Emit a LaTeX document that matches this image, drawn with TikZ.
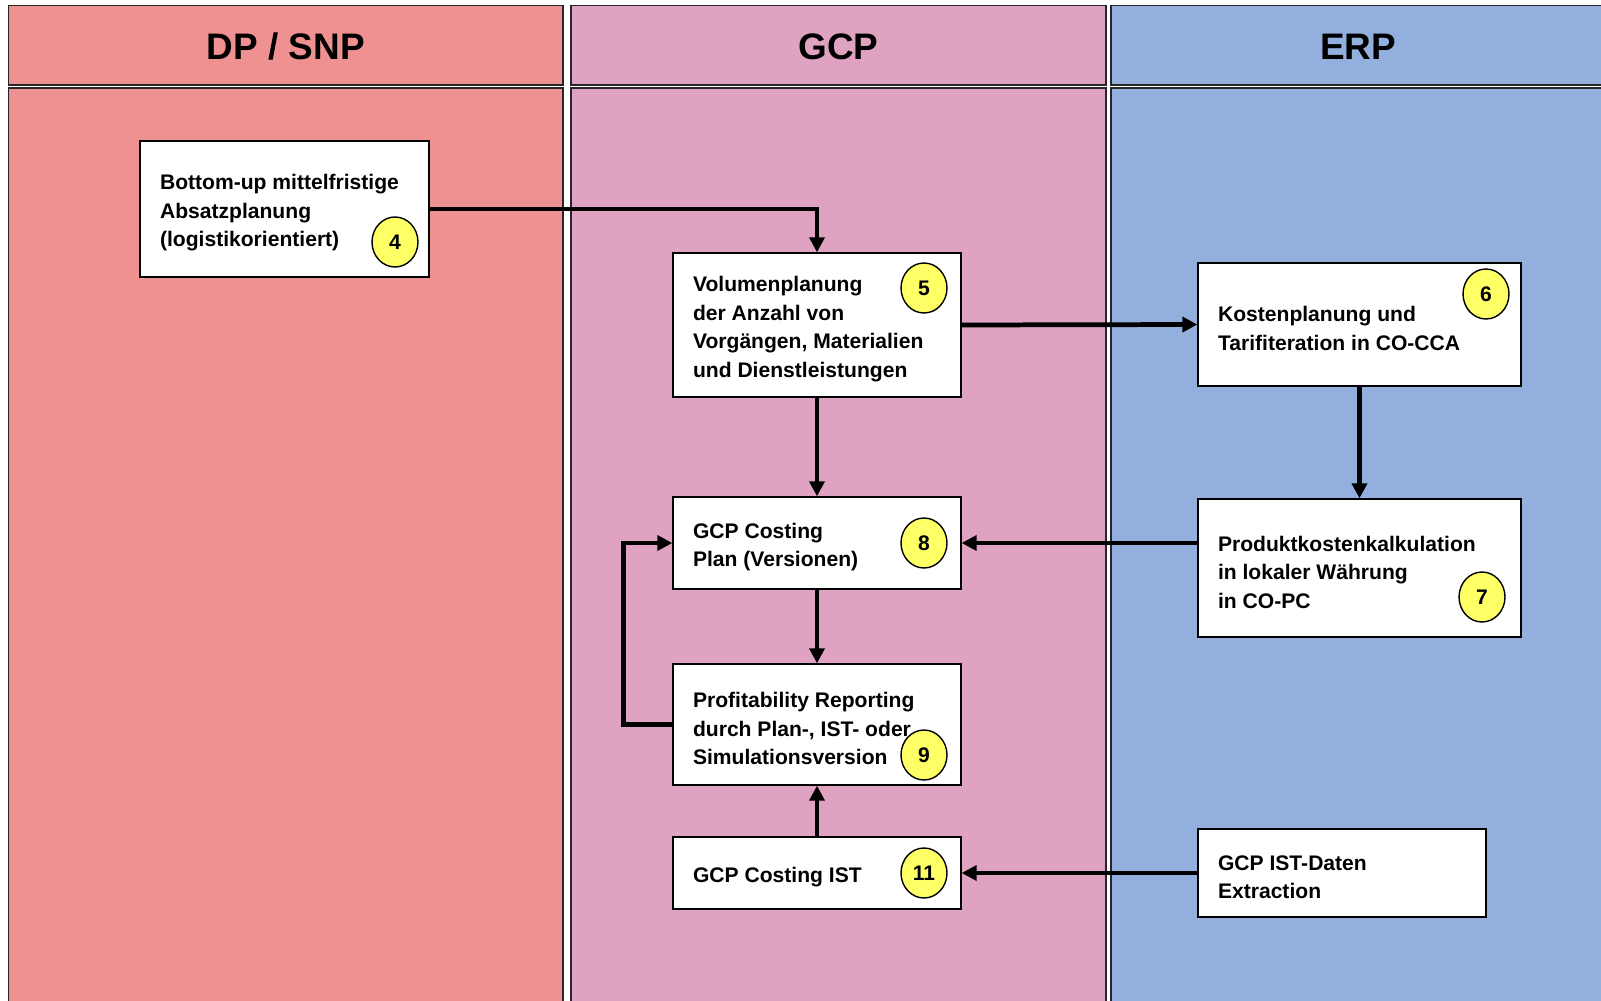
\documentclass[tikz,border=0pt]{standalone}
\usepackage{fontspec}
\setmainfont{Liberation Sans}
\usetikzlibrary{arrows.meta,shapes.geometric}
\definecolor{laneA}{RGB}{240,145,145}
\definecolor{laneB}{RGB}{223,162,193}
\definecolor{laneC}{RGB}{147,175,222}
\definecolor{badgefill}{RGB}{255,255,102}
\newcommand{\boxtxt}[2]{\parbox{#1}{\raggedright\vspace*{0.16cm}#2}}
\begin{document}
\begin{tikzpicture}[x=0.02cm,y=-0.02cm,
  lanehead/.style={rectangle, draw=black!85, line width=1pt, inner sep=0pt,
    minimum height=1.59cm},
  lanetitle/.style={font=\bfseries\fontsize{21}{25}\selectfont},
  lanebody/.style={rectangle, draw=black!85, line width=1pt, inner sep=0pt},
  procbox/.style={rectangle, draw=black, line width=0.8pt, fill=white,
    inner xsep=0.4cm, inner ysep=0pt,
    font=\bfseries\fontsize{12}{16.2}\selectfont},
  numbadge/.style={ellipse, draw=black, line width=0.8pt, fill=badgefill,
    minimum width=0.92cm, minimum height=1.0cm, inner sep=0pt,
    font=\bfseries\fontsize{12}{14}\selectfont},
  flow/.style={line width=2.7pt, -{Triangle[length=0.3cm,width=0.3cm]}}
]
\useasboundingbox (0,0) rectangle (1601,1000);
\fill[white] (0,0) rectangle (1601,1000);

% lanes
\node[lanebody, fill=laneA, minimum width=11.09cm, minimum height=18.44cm] (bA) at (285.75,549) {};
\node[lanebody, fill=laneB, minimum width=10.70cm, minimum height=18.44cm] (bB) at (838.5,549) {};
\node[lanebody, fill=laneC, minimum width=9.88cm, minimum height=18.44cm] (bC) at (1358,549) {};
\node[lanehead, fill=laneA, minimum width=11.09cm] (hA) at (285.75,45.25) {};
\node[lanehead, fill=laneB, minimum width=10.70cm] (hB) at (838.5,45.25) {};
\node[lanehead, fill=laneC, minimum width=9.88cm] (hC) at (1358,45.25) {};
\node[lanetitle] (tA) at (285.75,47) {DP / SNP};
\node[lanetitle] (tB) at (838.5,47) {GCP};
\node[lanetitle] (tC) at (1358,47) {ERP};

% process boxes
\node[procbox, line width=1.6pt, minimum height=2.72cm] (b4) at (284.5,209)
  {\boxtxt{4.98cm}{Bottom-up mittelfristige\\Absatzplanung\\(logistikorientiert)}};
\node[procbox, minimum height=2.88cm] (b5) at (817,325)
  {\boxtxt{4.96cm}{Volumenplanung\\der Anzahl von\\Vorgängen, Materialien\\und Dienstleistungen}};
\node[procbox, minimum height=2.46cm] (b6) at (1359.5,324.5)
  {\boxtxt{5.66cm}{Kostenplanung und\\Tarifiteration in CO-CCA}};
\node[procbox, minimum height=1.84cm] (b8) at (817,543)
  {\boxtxt{4.96cm}{GCP Costing\\Plan (Versionen)}};
\node[procbox, minimum height=2.76cm] (b7) at (1359.5,568)
  {\boxtxt{5.66cm}{Produktkostenkalkulation\\in lokaler Währung\\in CO-PC}};
\node[procbox, minimum height=2.42cm] (b9) at (817,724.5)
  {\boxtxt{4.96cm}{Profitability Reporting\\durch Plan-, IST- oder\\Simulationsversion}};
\node[procbox, minimum height=1.44cm] (b11) at (817,873)
  {\boxtxt{4.96cm}{GCP Costing IST}};
\node[procbox, minimum height=1.76cm] (bist) at (1342,873)
  {\boxtxt{4.96cm}{GCP IST-Daten\\Extraction}};

% number badges
\node[numbadge] (n4) at (395,242) {4};
\node[numbadge] (n5) at (924,288) {5};
\node[numbadge] (n6) at (1486,294) {6};
\node[numbadge] (n8) at (924,543) {8};
\node[numbadge] (n7) at (1482,597) {7};
\node[numbadge] (n9) at (924,755) {9};
\node[numbadge] (n11) at (924,873) {11};

% connectors
\draw[flow] (b4.east) -| (b5.north);
\draw[flow] (b5.east) -- (b6.west);
\draw[flow] (b6.south) -- (b7.north);
\draw[flow] (b7.west |- b8.east) -- (b8.east);
\draw[flow] (b5.south) -- (b8.north);
\draw[flow] (b8.south) -- (b9.north);
\draw[flow] (b9.west) -- ++(-49,0) |- (b8.west);
\draw[flow] (b11.north) -- (b9.south);
\draw[flow] (bist.west) -- (b11.east);
\end{tikzpicture}
\end{document}
